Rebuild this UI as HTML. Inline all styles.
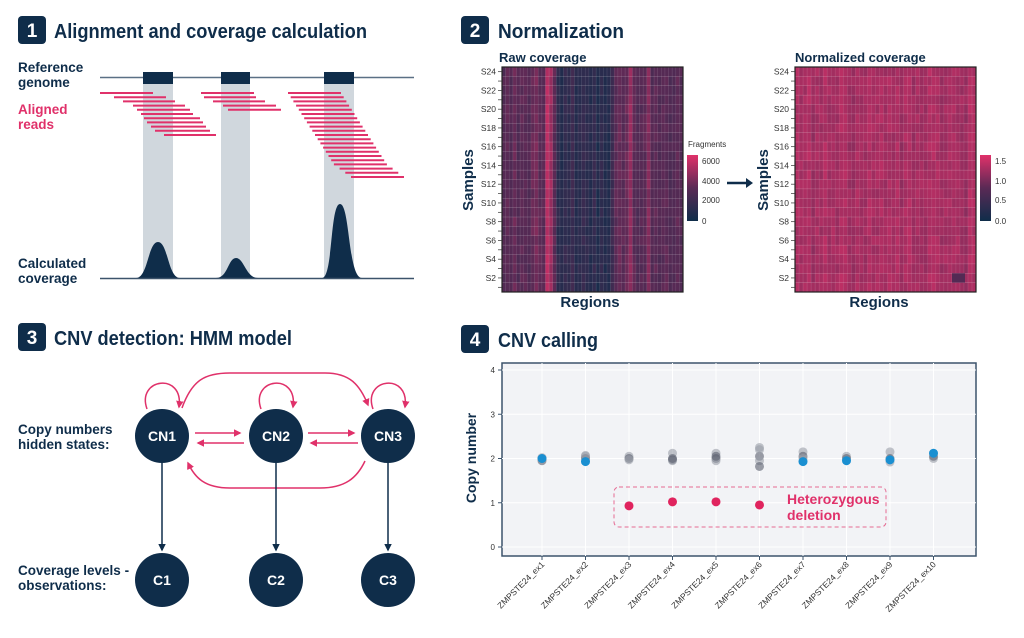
<!DOCTYPE html>
<html><head><meta charset="utf-8"><style>
html,body{margin:0;padding:0;background:#fff;}
svg{display:block;font-family:"Liberation Sans",sans-serif;}
</style></head><body>
<svg id="s" width="1024" height="638" viewBox="0 0 1024 638" xmlns="http://www.w3.org/2000/svg">
<defs>
<marker id="pa" viewBox="0 0 10 10" refX="8" refY="5" markerWidth="5" markerHeight="5" orient="auto"><path d="M0,0L10,5L0,10z" fill="#e0316a"/></marker>
<marker id="da" viewBox="0 0 10 10" refX="8" refY="5" markerWidth="5" markerHeight="5" orient="auto"><path d="M0,0L10,5L0,10z" fill="#0f2d4a"/></marker>
<linearGradient id="cb1" x1="0" y1="1" x2="0" y2="0"><stop offset="0" stop-color="#0f2d4a"/><stop offset="0.5" stop-color="#5a2a55"/><stop offset="1" stop-color="#e0316a"/></linearGradient>
</defs>
<g font-weight="bold">
<rect x="18" y="16" width="28" height="28" rx="4" fill="#0f2d4a"/><text x="32" y="37" fill="#fff" font-size="19" text-anchor="middle">1</text>
<text x="54" y="38" fill="#0f2d4a" font-size="20" textLength="313" lengthAdjust="spacingAndGlyphs">Alignment and coverage calculation</text>
<rect x="461" y="16" width="28" height="28" rx="4" fill="#0f2d4a"/><text x="475" y="37" fill="#fff" font-size="19" text-anchor="middle">2</text>
<text x="498" y="38" fill="#0f2d4a" font-size="20" textLength="126" lengthAdjust="spacingAndGlyphs">Normalization</text>
<rect x="18" y="323" width="28" height="28" rx="4" fill="#0f2d4a"/><text x="32" y="344" fill="#fff" font-size="19" text-anchor="middle">3</text>
<text x="54" y="345" fill="#0f2d4a" font-size="20" textLength="238" lengthAdjust="spacingAndGlyphs">CNV detection: HMM model</text>
<rect x="461" y="325" width="28" height="28" rx="4" fill="#0f2d4a"/><text x="475" y="346" fill="#fff" font-size="19" text-anchor="middle">4</text>
<text x="498" y="347" fill="#0f2d4a" font-size="20" textLength="100" lengthAdjust="spacingAndGlyphs">CNV calling</text>
</g>
<g font-weight="bold" font-size="13.5">
<text x="18" y="72" fill="#0f2d4a">Reference</text><text x="18" y="87" fill="#0f2d4a">genome</text>
<text x="18" y="114" fill="#e0316a">Aligned</text><text x="18" y="129" fill="#e0316a">reads</text>
<text x="18" y="268" fill="#0f2d4a">Calculated</text><text x="18" y="283" fill="#0f2d4a">coverage</text>
</g>
<rect x="143" y="80" width="30" height="198" fill="#d0d7dd"/>
<rect x="221" y="80" width="29" height="198" fill="#d0d7dd"/>
<rect x="324" y="80" width="30" height="198" fill="#d0d7dd"/>
<line x1="100" y1="77.5" x2="414" y2="77.5" stroke="#5b7085" stroke-width="1.5"/>
<rect x="143" y="72" width="30" height="12" fill="#0f2d4a"/>
<rect x="221" y="72" width="29" height="12" fill="#0f2d4a"/>
<rect x="324" y="72" width="30" height="12" fill="#0f2d4a"/>
<g id="reads" stroke="#e0316a" stroke-width="2"></g>
<path d="M136,278 C148,278 148,242 158,242 C168,242 168,278 180,278Z" fill="#0f2d4a"/>
<path d="M216,278 C228,278 228,258 236,258 C244,258 246,278 258,278Z" fill="#0f2d4a"/>
<path d="M322,278 C333,278 330,204 340,204 C350,204 348,278 362,278Z" fill="#0f2d4a"/>
<line x1="100" y1="278.5" x2="414" y2="278.5" stroke="#3c536b" stroke-width="1.5"/>
<g font-weight="bold" fill="#0f2d4a">
<text x="499" y="62" font-size="13">Raw coverage</text>
<text x="795" y="62" font-size="13">Normalized coverage</text>
<text x="590" y="307" font-size="15" text-anchor="middle">Regions</text>
<text x="879" y="307" font-size="15" text-anchor="middle">Regions</text>
<text transform="translate(473,180) rotate(-90)" font-size="15" text-anchor="middle">Samples</text>
<text transform="translate(768,180) rotate(-90)" font-size="15" text-anchor="middle">Samples</text>
</g>
<g id="hm"></g>
<text x="688" y="147" font-size="8" fill="#333">Fragments</text>
<rect x="687" y="155" width="11" height="66" fill="url(#cb1)"/>
<g font-size="8" fill="#333"><text x="702" y="164">6000</text><text x="702" y="184">4000</text><text x="702" y="203">2000</text><text x="702" y="224">0</text></g>
<line x1="727" y1="183" x2="747" y2="183" stroke="#0f2d4a" stroke-width="2.5"/><path d="M746,178L753,183L746,188z" fill="#0f2d4a"/>
<rect x="980" y="155" width="11" height="66" fill="url(#cb1)"/>
<g font-size="8" fill="#333"><text x="995" y="164">1.5</text><text x="995" y="184">1.0</text><text x="995" y="203">0.5</text><text x="995" y="224">0.0</text></g>
<g font-weight="bold" font-size="13.5" fill="#0f2d4a">
<text x="18" y="434">Copy numbers</text><text x="18" y="449">hidden states:</text>
<text x="18" y="575">Coverage levels -</text><text x="18" y="590">observations:</text>
</g>
<g stroke="#e0316a" stroke-width="1.5" fill="none" marker-end="url(#pa)">
<path d="M147,409 C136,378 184,372 179,407"/>
<path d="M261,409 C250,378 298,372 293,407"/>
<path d="M373,409 C362,378 410,372 405,407"/>
<path d="M182,408 C192,380 205,373 230,373 L325,373 C350,373 360,385 368,405"/>
<path d="M365,461 C357,478 345,488 320,488 L230,488 C205,488 195,478 188,463"/>
<line x1="195" y1="433" x2="240" y2="433"/><line x1="244" y1="443" x2="198" y2="443"/>
<line x1="308" y1="433" x2="354" y2="433"/><line x1="358" y1="443" x2="311" y2="443"/>
</g>
<g stroke="#0f2d4a" stroke-width="1.5" marker-end="url(#da)">
<line x1="162" y1="460" x2="162" y2="550"/><line x1="276" y1="460" x2="276" y2="550"/><line x1="388" y1="460" x2="388" y2="550"/>
</g>
<g fill="#0f2d4a"><circle cx="162" cy="436" r="27"/><circle cx="276" cy="436" r="27"/><circle cx="388" cy="436" r="27"/>
<circle cx="162" cy="580" r="27"/><circle cx="276" cy="580" r="27"/><circle cx="388" cy="580" r="27"/></g>
<g fill="#fff" font-weight="bold" font-size="14" text-anchor="middle">
<text x="162" y="441">CN1</text><text x="276" y="441">CN2</text><text x="388" y="441">CN3</text>
<text x="162" y="585">C1</text><text x="276" y="585">C2</text><text x="388" y="585">C3</text></g>
<rect x="502" y="363" width="474" height="193" fill="#f2f3f6" stroke="#3c536b" stroke-width="1.5"/>
<g id="p4"></g>
<text transform="translate(476,458) rotate(-90)" font-size="14" font-weight="bold" fill="#0f2d4a" text-anchor="middle">Copy number</text>
<rect x="614" y="487" width="272" height="40" rx="5" fill="none" stroke="#e0316a" stroke-width="1" stroke-dasharray="4,3" opacity="0.7"/>
<g font-weight="bold" font-size="14" fill="#e0316a"><text x="787" y="504">Heterozygous</text><text x="787" y="520">deletion</text></g>
</svg>
<script>
var NS="http://www.w3.org/2000/svg";
function el(p,t,a){var e=document.createElementNS(NS,t);for(var k in a)e.setAttribute(k,a[k]);p.appendChild(e);return e;}
var seed=7;function rnd(){seed=(seed*16807)%2147483647;return seed/2147483647;}
var R=document.getElementById('reads');
var g1=[[100,153],[114,166],[123,175],[133,185],[137,190],[141,193],[144,200],[147,203],[151,206],[155,210],[164,216]];
g1.forEach(function(r,i){el(R,'line',{x1:r[0],x2:r[1],y1:93+i*4.2,y2:93+i*4.2});});
var g2=[[201,254],[204,256],[213,265],[223,276],[228,281]];
g2.forEach(function(r,i){el(R,'line',{x1:r[0],x2:r[1],y1:93+i*4.2,y2:93+i*4.2});});
for(var i=0;i<21;i++){var s=288+i*2.7+(i>17?(i-17)*3:0);el(R,'line',{x1:s,x2:s+53,y1:93+i*4.2,y2:93+i*4.2});}
function mix(t){var a=[15,45,74],m=[90,42,85],b=[224,49,106];var c;
 if(t<0.5){var u=t/0.5;c=a.map(function(v,k){return v+(m[k]-v)*u;});}else{var u=(t-0.5)/0.5;c=m.map(function(v,k){return v+(b[k]-v)*u;});}
 return 'rgb('+c.map(Math.round).join(',')+')';}
var H=document.getElementById('hm');
function heat(x0,x1,nc,f,noise){var w=(x1-x0)/nc,h=225/24;
 for(var c=0;c<nc;c++){var base=f(c/nc);for(var r=0;r<24;r++){var v=Math.max(0,Math.min(1,base+(rnd()-0.5)*noise));
  el(H,'rect',{x:x0+c*w,y:67+r*h,width:w+0.3,height:h+0.3,fill:mix(v)});}}
 for(var r=1;r<24;r++)el(H,'line',{x1:x0,x2:x1,y1:67+r*h,y2:67+r*h,stroke:'#fff','stroke-opacity':0.3,'stroke-width':0.6});
 for(var c=1;c<nc;c++)el(H,'line',{x1:x0+c*w,x2:x0+c*w,y1:67,y2:292,stroke:'#fff','stroke-opacity':0.15,'stroke-width':0.6});
 el(H,'rect',{x:x0,y:67,width:x1-x0,height:225,fill:'none',stroke:'#222','stroke-width':1.2});
 for(var r=0;r<24;r++){var y=67+r*h+h/2;el(H,'line',{x1:x0-4,x2:x0,y1:y,y2:y,stroke:'#333','stroke-width':0.7});}
 for(var k=0;k<12;k++){var s=24-2*k;var y=67+(2*k)*h+h/2+3;var t=el(H,'text',{x:x0-6,y:y,'font-size':8.5,fill:'#333','text-anchor':'end'});t.textContent='S'+s;}
}
var rawp=[0.45,0.5,0.45,0.55,0.45,0.5,0.48,0.45,0.55,0.6,0.5,0.48,0.85,0.75,0.5,0.2,0.15,0.25,0.2,0.3,0.15,0.2,0.25,0.2,0.15,0.25,0.12,0.22,0.15,0.2,0.3,0.5,0.55,0.5,0.55,0.72,0.5,0.45,0.48,0.5,0.65,0.45,0.5,0.45,0.48,0.5,0.42,0.45,0.5,0.45];
heat(502,683,50,function(u){return rawp[Math.floor(u*50)];},0.1);
heat(795,976,45,function(u){return 0.78+(rnd()-0.5)*0.1;},0.1);
el(H,'rect',{x:952,y:67+22*9.375,width:13,height:9.375,fill:mix(0.45)});
var P=document.getElementById('p4');
for(var k=0;k<=4;k++){var y=547-k*44.25;el(P,'line',{x1:502,x2:976,y1:y,y2:y,stroke:'#fff','stroke-width':1});
 el(P,'line',{x1:498,x2:502,y1:y,y2:y,stroke:'#3c536b'});var t=el(P,'text',{x:495,y:y+3,'font-size':8,fill:'#333','text-anchor':'end'});t.textContent=k;}
function Y(v){return 547-v*44.25;}
var greys={0:[2,1.95,2.02],1:[2.05,2,2.07],2:[2.05,2,1.97],3:[2.12,1.97,1.95,2.0],4:[2.12,2.0,1.95,2.05],5:[2.25,2.05,1.95,1.82,2.2],6:[2.15,2.05,2.0],7:[2.05,2.0],8:[2.15,2.0,1.92],9:[2.0,2.05]};
var blue={0:2.0,1:1.93,6:1.93,7:1.95,8:1.97,9:2.12};
var red={2:0.93,3:1.02,4:1.02,5:0.95};
for(var i=0;i<10;i++){var x=542+i*43.5;el(P,'line',{x1:x,x2:x,y1:363,y2:556,stroke:'#fff'});
 el(P,'line',{x1:x,x2:x,y1:556,y2:560,stroke:'#3c536b'});
 var t=el(P,'text',{transform:'translate('+(x+3)+',565) rotate(-45)','font-size':8.5,fill:'#333','text-anchor':'end'});t.textContent='ZMPSTE24_ex'+(i+1);
 (greys[i]||[]).forEach(function(v,j){el(P,'circle',{cx:x,cy:Y(v),r:4.5,fill:j%2?'#5a5f6e':'#9a9ea8','fill-opacity':0.6});});
 if(blue[i]!==undefined)el(P,'circle',{cx:x,cy:Y(blue[i]),r:4.5,fill:'#1a8fd1'});
 if(red[i]!==undefined)el(P,'circle',{cx:x,cy:Y(red[i]),r:4.5,fill:'#e0245e'});}
</script>
</body></html>
